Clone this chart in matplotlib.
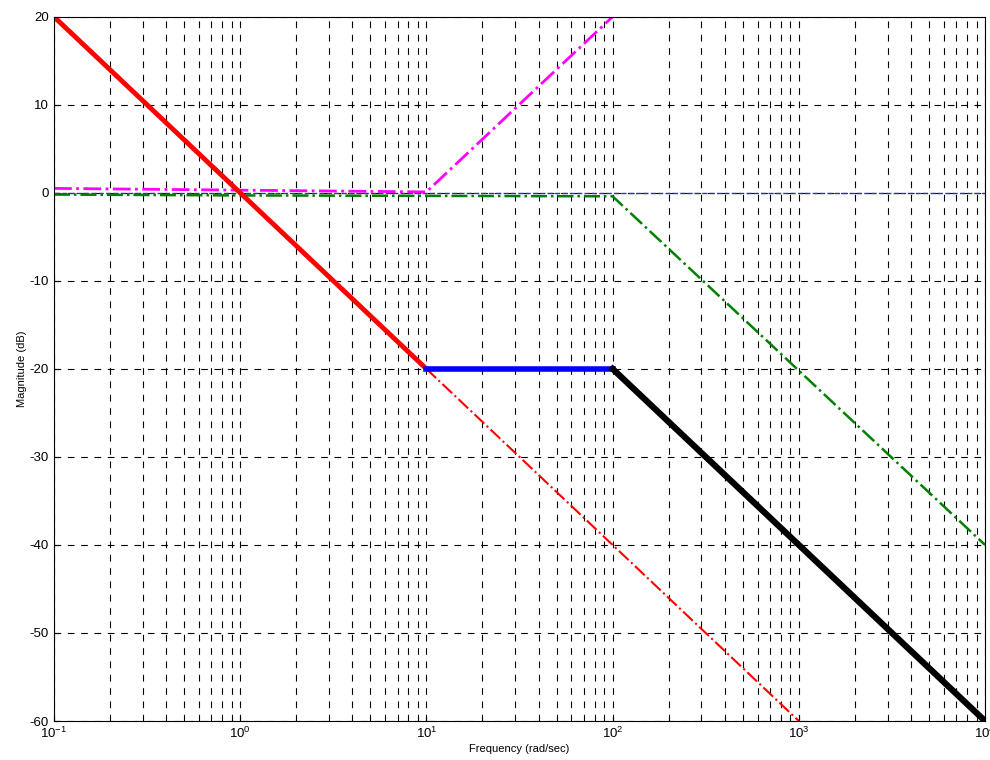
import matplotlib
matplotlib.use('Agg')
import matplotlib.pyplot as plt

plt.rcParams['font.family'] = ['Liberation Sans', 'DejaVu Sans']
plt.rcParams['axes.unicode_minus'] = False

# asymptote segments (frequency in rad/sec, magnitude in dB)
red_w = [0.1, 10]
red_db = [20, -20]
red_ext_w = [10, 1000]
red_ext_db = [-20, -60]
blue_w = [10, 100]
blue_db = [-20, -20]
black_w = [100, 10000]
black_db = [-20, -60]
mag_w = [0.1, 1, 10, 100]
mag_db = [0.5, 0.3, 0.1, 20]
green_w = [0.1, 1, 100, 10000]
green_db = [-0.2, -0.3, -0.4, -40]
zero_w = [0.1, 10000]
zero_db = [0, 0]

fig = plt.figure(figsize=(9.9, 7.6), dpi=100)
ax = fig.add_axes([0.0545, 0.0513, 0.9405, 0.9267])

ax.semilogx(zero_w, zero_db, color='#3030c0', ls='--', lw=1)
ax.semilogx(mag_w, mag_db, color='magenta', ls='-.', lw=2)
ax.semilogx(green_w, green_db, color='green', ls='-.', lw=1.8)
ax.semilogx(red_ext_w, red_ext_db, color='red', ls='-.', lw=1.5)
ax.semilogx(red_w, red_db, color='red', lw=3.5)
ax.semilogx(blue_w, blue_db, color='blue', lw=4)
ax.semilogx(black_w, black_db, color='black', lw=4.5)

ax.set_xlim(0.1, 10000)
ax.set_ylim(-60, 20)
ax.set_yticks(range(-60, 21, 10))
ax.grid(True, which='both', ls=(0, (6, 6)), color='black', lw=0.8)
ax.tick_params(which='both', direction='in', labelsize=9.5)
ax.set_xlabel('Frequency (rad/sec)', fontsize=8, labelpad=2)
ax.set_ylabel('Magnitude (dB)', fontsize=8, labelpad=2)

fig.savefig('out.png')
